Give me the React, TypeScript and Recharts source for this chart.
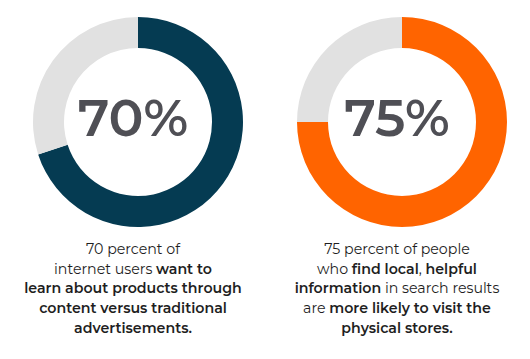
import { PieChart, Pie, Cell, Label } from 'recharts';

// share values read from the two rings
const contentShare = [
  { name: 'want to learn via content', value: 70 },
  { name: 'rest', value: 30 },
];
const localShare = [
  { name: 'more likely to visit', value: 75 },
  { name: 'rest', value: 25 },
];
const centerLabels = ['70%', '75%'];

// caption lines, [text, bold]
const contentCaption: [string, boolean][][] = [
  [['70 percent of', false]],
  [['internet users ', false], ['want to', true]],
  [['learn about products through', true]],
  [['content versus traditional', true]],
  [['advertisements.', true]],
];
const localCaption: [string, boolean][][] = [
  [['75 percent of people', false]],
  [['who ', false], ['find local', true], [', ', false], ['helpful', true]],
  [['information', true], [' in search results', false]],
  [['are ', false], ['more likely to visit the', true]],
  [['physical stores.', true]],
];

const NAVY = '#053b52';
const ORANGE = '#ff6400';
const GREY = '#e1e1e1';
const FONT = 'Montserrat, "Open Sans", Lato, sans-serif';

function Caption({ lines, left }: { lines: [string, boolean][][]; left: number }) {
  return (
    <div style={{
      position: 'absolute', left, top: 240, width: 266, textAlign: 'center',
      fontFamily: FONT, fontSize: 14.2, lineHeight: '19.7px', color: '#1e1e1e',
    }}>
      {lines.map((ln, i) => (
        <div key={i}>
          {ln.map(([t, b], j) => (
            <span key={j} style={{ fontWeight: b ? 600 : 400, whiteSpace: 'pre' }}>{t}</span>
          ))}
        </div>
      ))}
    </div>
  );
}

function Ring({ data, color, label, left }: { data: { name: string; value: number }[]; color: string; label: string; left: number }) {
  return (
    <div style={{ position: 'absolute', left, top: 0 }}>
      <PieChart width={266} height={235}>
        <Pie data={data} dataKey="value" cx={133} cy={117}
          innerRadius={74} outerRadius={105} startAngle={90} endAngle={-270}
          stroke="none" isAnimationActive={false}>
          {data.map((_, k) => <Cell key={k} fill={k === 0 ? color : GREY} />)}
          <Label value={label} position="center" fill="#4f4f55"
            style={{ fontFamily: FONT, fontSize: 52, fontWeight: 600 }} />
        </Pie>
      </PieChart>
    </div>
  );
}

export default function App() {
  return (
    <div style={{ position: 'absolute', left: 0, top: 0, width: 530, height: 359, background: '#fff' }}>
      <Ring data={contentShare} color={NAVY} label={centerLabels[0]} left={0} />
      <Ring data={localShare} color={ORANGE} label={centerLabels[1]} left={264} />
      <Caption lines={contentCaption} left={0} />
      <Caption lines={localCaption} left={264} />
    </div>
  );
}
